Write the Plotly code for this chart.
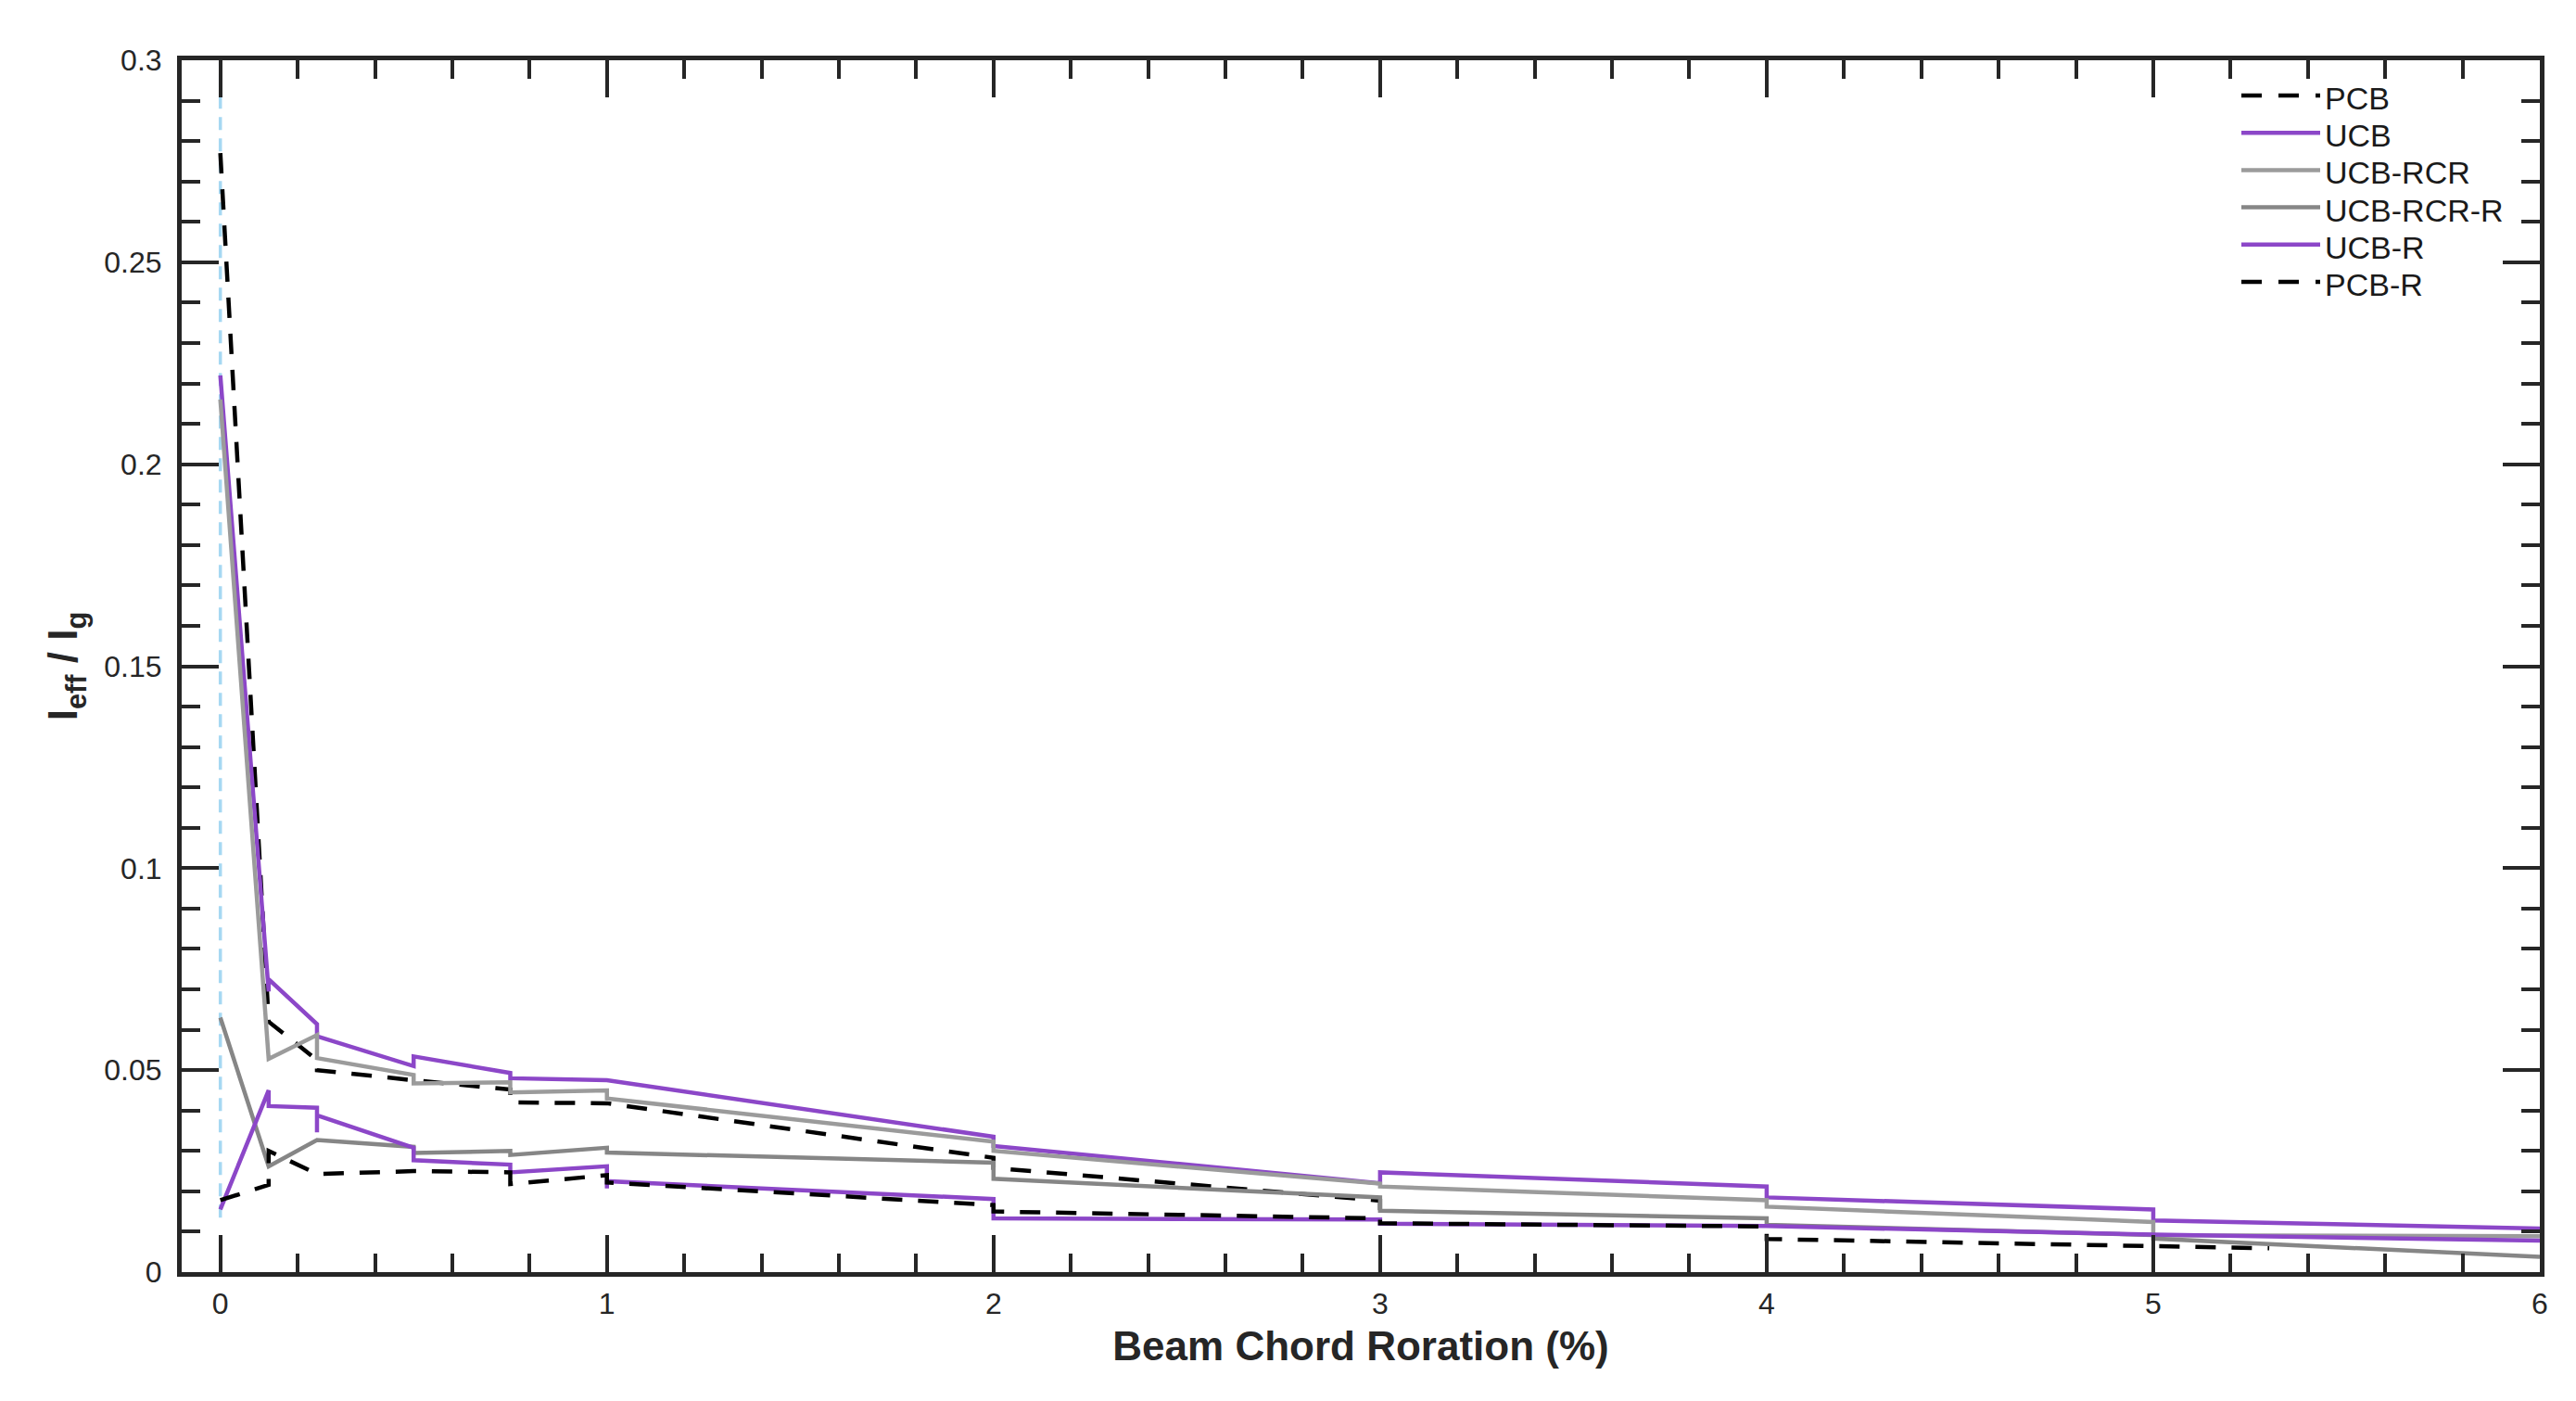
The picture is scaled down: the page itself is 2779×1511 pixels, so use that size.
import plotly.graph_objects as go

# ---------------- data ----------------
pcb_x = [0, 0.125, 0.25, 0.25, 0.5, 0.75, 0.75, 1, 2, 2, 3, 3]
pcb_y = [0.277, 0.062, 0.0525, 0.050, 0.0475, 0.0452, 0.042, 0.0418, 0.0283, 0.0258, 0.0177, 0.0153]

ucb_x = [0, 0.125, 0.125, 0.25, 0.25, 0.5, 0.5, 0.75, 0.75, 1, 2, 2, 3, 3, 4, 4, 5, 5, 6]
ucb_y = [0.222, 0.0695, 0.0725, 0.0614, 0.0584, 0.0510, 0.0534, 0.0493, 0.0480, 0.0475,
         0.0335, 0.0312, 0.0220, 0.0247, 0.0212, 0.0185, 0.0155, 0.0128, 0.0108]

ucbrcr_x = [0, 0.125, 0.25, 0.25, 0.5, 0.5, 0.75, 0.75, 1, 1, 2, 2, 3, 3, 4, 4, 5, 5, 6]
ucbrcr_y = [0.216, 0.0528, 0.0587, 0.0530, 0.0488, 0.0467, 0.0470, 0.0445, 0.0450, 0.0430,
            0.0323, 0.0300, 0.0219, 0.0212, 0.0178, 0.0162, 0.0124, 0.0091, 0.0089]

ucbrcrr_x = [0, 0.125, 0.25, 0.5, 0.5, 0.75, 0.75, 1, 1, 2, 2, 3, 3, 4, 4, 5, 5, 6]
ucbrcrr_y = [0.0630, 0.0262, 0.0327, 0.0310, 0.0295, 0.0300, 0.0290, 0.0308, 0.0296,
             0.0271, 0.0231, 0.0185, 0.0152, 0.0133, 0.0117, 0.0092, 0.0083, 0.0038]

ucbr_x = [0, 0.125, 0.125, 0.25, 0.25, 0.25, 0.5, 0.5, 0.75, 0.75, 1, 1, 1, 2, 2, 3, 3, 4, 5, 6]
ucbr_y = [0.0155, 0.0450, 0.0411, 0.0407, 0.0346, 0.0388, 0.0308, 0.0277, 0.0266, 0.0247,
          0.0262, 0.0207, 0.0225, 0.0181, 0.0133, 0.0130, 0.0120, 0.0114, 0.0093, 0.0078]

pcbr_x = [0, 0.125, 0.125, 0.25, 0.5, 0.75, 0.75, 1, 1, 2, 2, 3, 3, 4, 4, 5, 5.3]
pcbr_y = [0.0178, 0.0216, 0.0300, 0.0243, 0.0250, 0.0247, 0.0218, 0.0240, 0.0222,
          0.0166, 0.0150, 0.0133, 0.0121, 0.0113, 0.0082, 0.0063, 0.0059]

ref_x = [0, 0]
ref_y = [0.0135, 0.31]

x_ticks = [0, 1, 2, 3, 4, 5, 6]
series_names = ["PCB", "UCB", "UCB-RCR", "UCB-RCR-R", "UCB-R", "PCB-R"]

# ---------------- styles ----------------
PURPLE = "#8c47c8"
GRAY_L = "#9b9b9b"
GRAY_D = "#868686"
AX = "#262626"
FONT = "Liberation Sans, Arial, Helvetica, sans-serif"
DASH = "22px,17px"

# plot-area geometry in pixels (used for the legend placement)
W, H = 2779, 1511
ML, MR, MT, MB = 188, 47, 57, 147
PW, PH = W - ML - MR, H - MT - MB

fig = go.Figure()
fig.add_trace(go.Scatter(x=ref_x, y=ref_y, mode="lines", showlegend=False, hoverinfo="skip",
                         line=dict(color="#a6d8f2", width=3.5, dash="14px,9px")))
series = [
    (pcb_x, pcb_y, "black", DASH),
    (ucb_x, ucb_y, PURPLE, "solid"),
    (ucbrcr_x, ucbrcr_y, GRAY_L, "solid"),
    (ucbrcrr_x, ucbrcrr_y, GRAY_D, "solid"),
    (ucbr_x, ucbr_y, PURPLE, "solid"),
    (pcbr_x, pcbr_y, "black", DASH),
]
for name, (xs, ys, col, dash) in zip(series_names, series):
    fig.add_trace(go.Scatter(x=xs, y=ys, mode="lines", name=name, showlegend=False,
                             line=dict(color=col, width=4.5, dash=dash)))

# legend (MATLAB-style: long line samples, tight rows, no box)
shapes, annos = [], []
for i, (name, (xs, ys, col, dash)) in enumerate(zip(series_names, series)):
    yl = 95 + 40.2 * i
    shapes.append(dict(type="line", xref="paper", yref="paper",
                       x0=(2410 - ML) / PW, x1=(2495 - ML) / PW,
                       y0=(H - MB - yl) / PH, y1=(H - MB - yl) / PH,
                       line=dict(color=col, width=4.5, dash=("22px,18px" if dash != "solid" else "solid"))))
    annos.append(dict(xref="paper", yref="paper", x=(2498 - ML) / PW, y=(H - MB - yl - 3) / PH,
                      xanchor="left", yanchor="middle", showarrow=False, text=name,
                      font=dict(size=34, color="#1a1a1a", family=FONT)))

axis_common = dict(
    showgrid=False, zeroline=False, showline=True, linewidth=5, linecolor=AX,
    mirror="allticks", ticks="inside", ticklen=40, tickwidth=4, tickcolor=AX,
    tickfont=dict(size=32, color=AX, family=FONT),
)
fig.update_xaxes(range=[-0.1, 6], tickvals=x_ticks, ticklabelstandoff=2,
                 minor=dict(dtick=0.2, tick0=0, ticks="inside", ticklen=20, tickwidth=4, tickcolor=AX),
                 title=dict(text="<b>Beam Chord Roration (%)</b>", font=dict(size=44, color=AX, family=FONT),
                            standoff=14),
                 **axis_common)
fig.update_yaxes(range=[0, 0.3], dtick=0.05, tick0=0, ticklabelstandoff=10,
                 minor=dict(dtick=0.01, tick0=0, ticks="inside", ticklen=20, tickwidth=4, tickcolor=AX),
                 title=dict(text="<b>I<sub>eff</sub> / I<sub>g</sub></b>", font=dict(size=44, color=AX, family=FONT),
                            standoff=16),
                 **axis_common)

fig.update_layout(
    width=W, height=H,
    margin=dict(l=ML, r=MR, t=MT, b=MB),
    plot_bgcolor="white", paper_bgcolor="white",
    font=dict(family=FONT, size=32, color=AX),
    showlegend=False,
    shapes=shapes, annotations=annos,
)

fig.write_html("out.html")
